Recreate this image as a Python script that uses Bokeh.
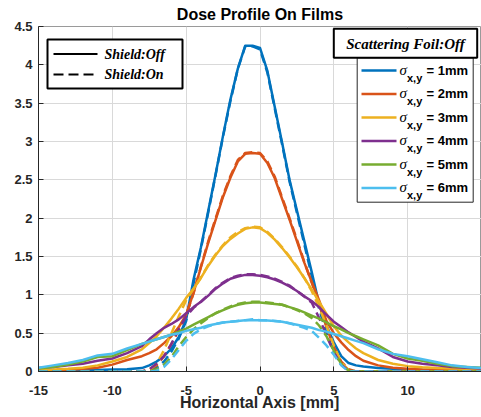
from bokeh.plotting import figure
from bokeh.models import Label, BoxAnnotation, Arrow, FixedTicker, Range1d
from bokeh.embed import file_html
from bokeh.resources import INLINE

# ---------------------------------------------------------------- data
# horizontal position on the film [mm]
x_mm = [-15, -14, -13, -12, -11, -10, -9,
        -8, -7.5, -7, -6.5, -6, -5.5, -5, -4.5, -4, -3.5, -3, -2.5, -2, -1.5, -1, -0.5,
        0, 0.5, 1, 1.5, 2, 2.5, 3, 3.5, 4, 4.5, 5, 5.5, 6, 6.5, 7,
        8, 9, 10, 11, 12, 13, 14, 15]

sigma_mm = [1, 2, 3, 4, 5, 6]

# dose, shield off (solid)
dose_off_s1 = [0.01, 0.01, 0.012, 0.015, 0.02, 0.025, 0.03,
               0.045, 0.08, 0.13, 0.2, 0.3, 0.45, 0.68, 1.2, 1.62, 2.1, 2.58, 3.08, 3.55, 3.95, 4.25, 4.25,
               4.22, 3.92, 3.45, 2.98, 2.5, 2.1, 1.7, 1.3, 0.88, 0.6, 0.38, 0.2, 0.11, 0.08, 0.065,
               0.045, 0.035, 0.025, 0.02, 0.015, 0.012, 0.01, 0.01]
dose_off_s2 = [0.01, 0.015, 0.02, 0.035, 0.05, 0.09, 0.15,
               0.2, 0.24, 0.29, 0.37, 0.46, 0.58, 0.74, 1.03, 1.36, 1.68, 1.98, 2.28, 2.53, 2.74, 2.84, 2.85,
               2.84, 2.72, 2.52, 2.25, 1.98, 1.7, 1.42, 1.17, 0.93, 0.66, 0.5, 0.38, 0.28, 0.2, 0.14,
               0.08, 0.05, 0.035, 0.025, 0.02, 0.015, 0.01, 0.01]
dose_off_s3 = [0.02, 0.025, 0.035, 0.05, 0.08, 0.13, 0.19,
               0.29, 0.37, 0.46, 0.57, 0.69, 0.82, 0.96, 1.08, 1.22, 1.38, 1.52, 1.64, 1.73, 1.8, 1.86, 1.88,
               1.87, 1.81, 1.72, 1.61, 1.49, 1.36, 1.22, 1.07, 0.91, 0.75, 0.59, 0.47, 0.38, 0.3, 0.24,
               0.15, 0.1, 0.07, 0.055, 0.045, 0.04, 0.035, 0.03]
dose_off_s4 = [0.045, 0.06, 0.08, 0.1, 0.14, 0.17, 0.24,
               0.33, 0.42, 0.5, 0.57, 0.62, 0.68, 0.76, 0.84, 0.91, 0.99, 1.08, 1.15, 1.21, 1.24, 1.26, 1.26,
               1.25, 1.23, 1.2, 1.16, 1.11, 1.05, 0.98, 0.92, 0.84, 0.74, 0.65, 0.58, 0.51, 0.45, 0.39,
               0.3, 0.19, 0.13, 0.1, 0.08, 0.06, 0.05, 0.04]
dose_off_s5 = [0.04, 0.06, 0.09, 0.13, 0.19, 0.2, 0.28,
               0.36, 0.39, 0.42, 0.45, 0.48, 0.52, 0.56, 0.61, 0.66, 0.71, 0.76, 0.8, 0.84, 0.87, 0.89, 0.9,
               0.9, 0.89, 0.88, 0.87, 0.84, 0.81, 0.77, 0.73, 0.69, 0.64, 0.59, 0.55, 0.5, 0.46, 0.42,
               0.34, 0.23, 0.17, 0.14, 0.1, 0.07, 0.06, 0.05]
dose_off_s6 = [0.05, 0.08, 0.11, 0.15, 0.21, 0.23, 0.3,
               0.36, 0.39, 0.42, 0.45, 0.48, 0.5, 0.53, 0.55, 0.57, 0.6, 0.62, 0.64, 0.65, 0.66, 0.67, 0.67,
               0.67, 0.665, 0.66, 0.65, 0.63, 0.61, 0.59, 0.57, 0.54, 0.52, 0.49, 0.46, 0.43, 0.4, 0.37,
               0.29, 0.23, 0.2, 0.16, 0.12, 0.08, 0.06, 0.045]

# dose, shield on (dashed)
dose_on_s1 = [0, 0, 0, 0, 0, 0, 0,
              0, 0.01, 0.05, 0.13, 0.26, 0.43, 0.66, 1.15, 1.6, 2.08, 2.57, 3.07, 3.53, 3.95, 4.24, 4.24,
              4.2, 3.9, 3.43, 2.96, 2.48, 2.07, 1.66, 1.25, 0.82, 0.5, 0.26, 0.1, 0.02, 0, 0,
              0, 0, 0, 0, 0, 0, 0, 0]
dose_on_s2 = [0, 0, 0, 0, 0, 0, 0,
              0, 0.02, 0.08, 0.2, 0.36, 0.54, 0.74, 1.02, 1.37, 1.7, 2.0, 2.3, 2.55, 2.76, 2.85, 2.86,
              2.85, 2.74, 2.54, 2.27, 2.0, 1.72, 1.43, 1.16, 0.88, 0.58, 0.32, 0.13, 0.03, 0, 0,
              0, 0, 0, 0, 0, 0, 0, 0]
dose_on_s3 = [0, 0, 0, 0, 0, 0, 0,
              0, 0.02, 0.1, 0.28, 0.5, 0.72, 0.93, 1.08, 1.23, 1.39, 1.53, 1.65, 1.75, 1.82, 1.87, 1.89,
              1.88, 1.82, 1.73, 1.62, 1.5, 1.37, 1.22, 1.05, 0.84, 0.6, 0.34, 0.12, 0.02, 0, 0,
              0, 0, 0, 0, 0, 0, 0, 0]
dose_on_s4 = [0, 0, 0, 0, 0, 0, 0,
              0, 0.03, 0.1, 0.2, 0.36, 0.55, 0.72, 0.83, 0.91, 1.0, 1.09, 1.16, 1.22, 1.25, 1.27, 1.27,
              1.26, 1.24, 1.21, 1.17, 1.12, 1.05, 0.98, 0.9, 0.7, 0.47, 0.25, 0.09, 0.01, 0, 0,
              0, 0, 0, 0, 0, 0, 0, 0]
dose_on_s5 = [0, 0, 0, 0, 0, 0, 0,
              0, 0, 0.03, 0.09, 0.19, 0.33, 0.45, 0.55, 0.63, 0.7, 0.76, 0.81, 0.85, 0.88, 0.9, 0.91,
              0.91, 0.9, 0.89, 0.87, 0.84, 0.8, 0.76, 0.7, 0.6, 0.46, 0.27, 0.1, 0.01, 0, 0,
              0, 0, 0, 0, 0, 0, 0, 0]
dose_on_s6 = [0, 0, 0, 0, 0, 0, 0,
              0, 0, 0.01, 0.06, 0.16, 0.28, 0.4, 0.49, 0.55, 0.59, 0.62, 0.64, 0.65, 0.66, 0.67, 0.68,
              0.67, 0.67, 0.66, 0.65, 0.63, 0.6, 0.57, 0.53, 0.44, 0.34, 0.22, 0.08, 0, 0, 0,
              0, 0, 0, 0, 0, 0, 0, 0]

x_ticks = [-15, -10, -5, 0, 5, 10, 15]
x_tick_labels = ["-15", "-10", "-5", "0", "5", "10", "15"]
y_ticks = [0, 0.5, 1, 1.5, 2, 2.5, 3, 3.5, 4, 4.5]
y_tick_labels = ["0", "0.5", "1", "1.5", "2", "2.5", "3", "3.5", "4", "4.5"]

dose_off = [dose_off_s1, dose_off_s2, dose_off_s3, dose_off_s4, dose_off_s5, dose_off_s6]
dose_on = [dose_on_s1, dose_on_s2, dose_on_s3, dose_on_s4, dose_on_s5, dose_on_s6]

# ---------------------------------------------------------------- style
colors = ["#0072BD", "#D95319", "#EDB120", "#7E2F8E", "#77AC30", "#4DBEEE"]
SANS = "Liberation Sans"
SERIF = "Liberation Serif"
AX = "#262626"

W, H = 481, 417
FL, FT, FB = 38, 26, 371   # frame edges on the canvas (px)

p = figure(width=W, height=H, x_range=Range1d(-15, 15), y_range=Range1d(0, 4.5),
           output_backend="svg", toolbar_location=None,
           min_border_left=FL, min_border_right=0, min_border_top=FT, min_border_bottom=H - FB,
           background_fill_color="white", border_fill_color="white")

p.title.text = "Dose Profile On Films"
p.title.align = "center"
p.title.vertical_align = "top"
p.title.text_font = SANS
p.title.text_font_size = "16px"
p.title.text_font_style = "bold"
p.title.text_color = "black"
p.title.standoff = 4

p.outline_line_color = "#9a9a9a"
p.outline_line_width = 1

for ax in (p.xaxis[0], p.yaxis[0]):
    ax.axis_line_color = AX
    ax.major_tick_line_color = AX
    ax.major_tick_in = 5
    ax.major_tick_out = 0
    ax.minor_tick_line_color = None
    ax.major_label_text_font = SANS
    ax.major_label_text_font_size = "13px"
    ax.major_label_text_font_style = "bold"
    ax.major_label_text_color = AX

p.xaxis.ticker = FixedTicker(ticks=x_ticks)
p.yaxis.ticker = FixedTicker(ticks=y_ticks)
p.yaxis.major_label_overrides = dict(zip(y_ticks, y_tick_labels))
# the right-most tick sits on the canvas edge, so its label is left blank to
# keep the axis from shrinking the frame
x_over = dict(zip(x_ticks, x_tick_labels))
x_over[x_ticks[-1]] = ""
p.xaxis.major_label_overrides = x_over
p.xaxis.major_label_standoff = 14
p.yaxis.major_label_standoff = 6

p.xaxis.axis_label = "Horizontal Axis [mm]"
p.xaxis.axis_label_text_font = SANS
p.xaxis.axis_label_text_font_size = "16px"
p.xaxis.axis_label_text_font_style = "bold"
p.xaxis.axis_label_text_color = AX
p.xaxis.axis_label_standoff = -4

p.grid.grid_line_color = "#d9d9d9"
p.grid.grid_line_width = 1

# ---------------------------------------------------------------- profiles
for col, off, on in zip(colors, dose_off, dose_on):
    p.line(x_mm, off, line_color=col, line_width=2.5, line_join="round")
    p.line(x_mm, on, line_color=col, line_width=2.5, line_dash="9 5", line_join="round")


# ---------------------------------------------------------------- legends
def sx(px):
    return px - FL


def sy(py):
    return FB - py


def box(l, t, r, b, lw, lc):
    p.add_layout(BoxAnnotation(left=sx(l), right=sx(r), top=sy(t), bottom=sy(b),
                               left_units="screen", right_units="screen",
                               top_units="screen", bottom_units="screen",
                               fill_color="white", fill_alpha=1.0,
                               line_color=lc, line_width=lw, line_alpha=1.0))


def seg(x0, x1, y, col, dash="solid", lw=2.5):
    p.add_layout(Arrow(x_start=sx(x0), y_start=sy(y), x_end=sx(x1), y_end=sy(y),
                       start_units="screen", end_units="screen", end=None,
                       line_color=col, line_width=lw, line_dash=dash))


def text(x, y, s, font=SANS, size="13px", style="bold", align="left", color="black"):
    p.add_layout(Label(x=sx(x), y=sy(y), x_units="screen", y_units="screen", text=s,
                       text_font=font, text_font_size=size, text_font_style=style,
                       text_align=align, text_baseline="middle", text_color=color))


# shield legend
box(47, 39, 182, 88, 2, "black")
seg(53, 97, 53.5, "black", lw=2)
seg(53, 97, 74, "black", dash="10 5", lw=2)
text(104, 53.5, "Shield:Off", font=SERIF, size="14px", style="bold italic")
text(104, 74, "Shield:On", font=SERIF, size="14px", style="bold italic")

# beam size legend
box(356.7, 57.3, 472.7, 201.7, 1, AX)
box(333.3, 28.3, 476.7, 57.3, 2, "black")
text(405, 43, "Scattering Foil:Off", font=SERIF, size="15px", style="bold italic", align="center")
for i, (col, s) in enumerate(zip(colors, sigma_mm)):
    yc = 70 + 23.5 * i
    seg(361, 396, yc, col)
    text(399, yc - 1, "σ", font=SERIF, size="15px", style="italic")
    text(406.5, yc + 7, "x,y", size="11px")
    text(426, yc - 0.5, "= %dmm" % s, size="13px")

open("out.html", "w").write(file_html(p, INLINE))
